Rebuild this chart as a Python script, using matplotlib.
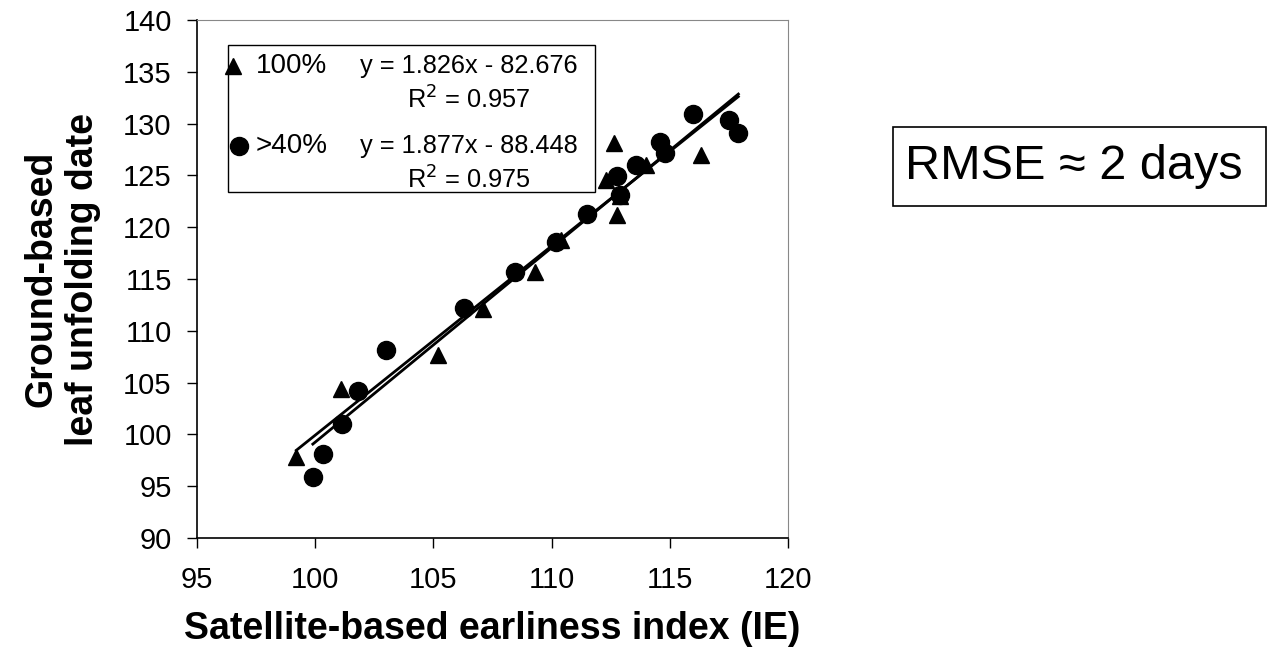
import numpy as np
import matplotlib
matplotlib.use("Agg")
import matplotlib.pyplot as plt
from matplotlib.patches import Rectangle

plt.rcParams['font.family'] = ['Liberation Sans', 'DejaVu Sans']

# 100% series (triangles)
tri_x = [99.2, 101.1, 105.2, 107.1, 109.3, 110.4, 112.3, 112.65, 112.75, 112.9, 114.0, 116.3]
tri_y = [97.8, 104.4, 107.7, 112.1, 115.7, 118.8, 124.6, 128.1, 121.2, 123.0, 126.0, 127.0]
# >40% series (circles)
cir_x = [99.9, 100.35, 101.15, 101.8, 103.0, 106.3, 108.45, 110.2, 111.5, 112.75,
         112.9, 113.55, 114.6, 114.8, 116.0, 117.5, 117.9]
cir_y = [95.9, 98.1, 101.0, 104.2, 108.1, 112.2, 115.7, 118.6, 121.3, 124.9,
         123.1, 126.0, 128.2, 127.2, 130.9, 130.3, 129.1]

# trendline coefficients (slope, intercept) and x extents
tri_fit = (1.826, -82.676)
cir_fit = (1.877, -88.448)
tri_range = [99.2, 117.9]
cir_range = [99.9, 117.9]

fig = plt.figure(figsize=(12.69, 6.63), dpi=100)
ax = fig.add_axes([197 / 1269, 1 - 538 / 663, 591 / 1269, 518 / 663])

for rng, (m, c) in [(tri_range, tri_fit), (cir_range, cir_fit)]:
    xs = np.array(rng)
    ax.plot(xs, m * xs + c, color='black', lw=2.0, zorder=2)

ax.plot(tri_x, tri_y, '^', color='black', ms=11.5, zorder=3)
ax.plot(cir_x, cir_y, 'o', color='black', ms=13, zorder=4)

ax.set_xlim(95, 120)
ax.set_ylim(90, 140)
ax.set_xticks(np.arange(95, 121, 5))
ax.set_yticks(np.arange(90, 141, 5))
ax.tick_params(direction='out', length=7.2, width=1, labelsize=21)
ax.tick_params(axis='x', pad=13)
ax.tick_params(axis='y', pad=11)
for s in ['top', 'right']:
    ax.spines[s].set_color('#888888')
for s in ['left', 'bottom']:
    ax.spines[s].set_color('black')
    ax.spines[s].set_linewidth(1.2)

ax.set_xlabel('Satellite-based earliness index (IE)', fontsize=27, fontweight='bold', labelpad=12)
ax.set_ylabel('Ground-based\nleaf unfolding date', fontsize=27, fontweight='bold', labelpad=16)

# legend-like box with equations
ax.add_patch(Rectangle((0.052, 0.667), 0.621, 0.285, transform=ax.transAxes,
                       fill=False, edgecolor='black', lw=1, zorder=5))
ax.plot([0.061], [0.911], '^', color='black', ms=11, transform=ax.transAxes, clip_on=False)
ax.plot([0.071], [0.757], 'o', color='black', ms=13, transform=ax.transAxes, clip_on=False)
ax.text(0.0995, 0.911, '100%', transform=ax.transAxes, fontsize=20, va='center', ha='left')
ax.text(0.0995, 0.757, '>40%', transform=ax.transAxes, fontsize=20, va='center', ha='left')
ax.text(0.460, 0.911, 'y = 1.826x - 82.676', transform=ax.transAxes, fontsize=18.3, va='center', ha='center')
ax.text(0.460, 0.845, 'R$^2$ = 0.957', transform=ax.transAxes, fontsize=18.3, va='center', ha='center')
ax.text(0.460, 0.757, 'y = 1.877x - 88.448', transform=ax.transAxes, fontsize=18.3, va='center', ha='center')
ax.text(0.460, 0.692, 'R$^2$ = 0.975', transform=ax.transAxes, fontsize=18.3, va='center', ha='center')

# RMSE box
fig.patches.append(Rectangle((893 / 1269, 1 - 206 / 663), 373 / 1269, 79 / 663,
                             transform=fig.transFigure, fill=False, edgecolor='black', lw=1.2))
fig.text(905 / 1269, 1 - 166.5 / 663, 'RMSE \u2248 2 days', fontsize=35, va='center', ha='left')

fig.savefig('out.png', dpi=100)
